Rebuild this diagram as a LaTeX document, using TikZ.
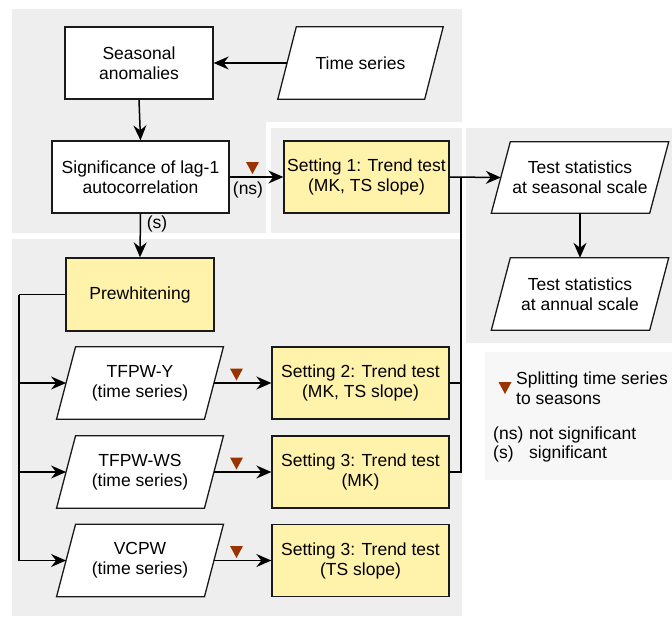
\documentclass[tikz,border=0pt]{standalone}
\usepackage{fontspec}
\setmainfont{Liberation Sans}
\usetikzlibrary{arrows.meta}

\definecolor{panelgray}{HTML}{EEEEEE}
\definecolor{legendgray}{HTML}{F7F7F7}
\definecolor{stepyellow}{HTML}{FFF2AB}
\definecolor{markred}{HTML}{993300}
\definecolor{edge}{HTML}{1A1A1A}

\pgfdeclarelayer{panels}
\pgfdeclarelayer{shapes}
\pgfsetlayers{panels,shapes,main}

% parallelogram outline around a (borderless) node, shifted by half the slant
\newcommand\parallelshape[2]{%
  \begin{pgfonlayer}{shapes}
    \draw[boxline, fill=white]
      ([xshift=#2/2]#1.north west) -- ([xshift=#2/2]#1.north east) --
      ([xshift=-#2/2]#1.south east) -- ([xshift=-#2/2]#1.south west) -- cycle;
  \end{pgfonlayer}}

\tikzset{
  txt/.style={font=\fontsize{17.5}{20}\selectfont, align=center, text=black},
  boxline/.style={draw=edge, line width=1.3pt},
  plainbox/.style={txt, boxline, fill=white, rectangle, inner sep=0pt, minimum height=72pt},
  stepbox/.style={plainbox, fill=stepyellow},
  databox/.style={txt, rectangle, inner sep=0pt, minimum height=72pt},
  arr/.style={draw=black, line width=1.5pt, -{Stealth[length=15pt,width=13pt,inset=5pt]}},
  link/.style={draw=black, line width=1.5pt},
  splitmark/.pic={\fill[markred] (-6.5,-6) -- (6.5,-6) -- (0,6) -- cycle;},
}

\begin{document}
\begin{tikzpicture}[x=1pt, y=-1pt]
\useasboundingbox (0,0) rectangle (672,616);

% grouping panels
\begin{pgfonlayer}{panels}
  \fill[panelgray] (12,9) -- (462,9) -- (462,122) -- (266,122) -- (266,233) -- (12,233) -- cycle;
  \fill[panelgray] (271,128) rectangle (462,233);
  \fill[panelgray] (466,128) rectangle (672,343);
  \fill[panelgray] (12,239) rectangle (462,616);
  \fill[legendgray] (485,352) rectangle (672,480);
\end{pgfonlayer}

% rectangular steps
\node[plainbox, minimum width=148pt] (anom) at (139,63) {Seasonal\\anomalies};
\node[plainbox, minimum width=177pt] (sig) at (140.5,177) {Significance of lag-1\\autocorrelation};
\node[stepbox, minimum width=165pt] (set1) at (366.5,177) {Setting 1: Trend test\\(MK, TS slope)};
\node[stepbox, minimum width=148pt, minimum height=73pt] (prew) at (140,294.5) {Prewhitening};
\node[stepbox, minimum width=177pt] (set2) at (360.5,383) {Setting 2: Trend test\\(MK, TS slope)};
\node[stepbox, minimum width=177pt] (set3a) at (360.5,472) {Setting 3: Trend test\\(MK)};
\node[stepbox, minimum width=177pt] (set3b) at (360.5,560.5) {Setting 3: Trend test\\(TS slope)};

% data (parallelogram) nodes
\node[databox, minimum width=146.5pt] (ts) at (360.5,63) {Time series};
\node[databox, minimum width=158pt, minimum height=71pt] (stseas) at (580,177.5) {Test statistics\\at seasonal scale};
\node[databox, minimum width=158pt] (stann) at (580,294) {Test statistics\\at annual scale};
\node[databox, minimum width=147.5pt] (tfy) at (140,383) {TFPW-Y\\(time series)};
\node[databox, minimum width=147.5pt] (tfws) at (140,472) {TFPW-WS\\(time series)};
\node[databox, minimum width=147.5pt] (vcpw) at (140,560.5) {VCPW\\(time series)};
\parallelshape{ts}{18.5}
\parallelshape{stseas}{19}
\parallelshape{stann}{19}
\parallelshape{tfy}{19}
\parallelshape{tfws}{19}
\parallelshape{vcpw}{19}

% main flow
\draw[arr] (ts.west) -- (anom.east);
\draw[arr] (anom.south) -- (sig.north);
\draw[arr] (sig.east) -- (set1.west);
\draw[arr] (sig.south) -- (prew.north);
\node[txt] (nslab) at (248,190) {(ns)};
\node[txt] (slab) at (157,224) {(s)};

% prewhitening variants
\coordinate (bus) at (19,294.5);
\draw[link] (prew.west) -- (bus);
\draw[arr] (bus) |- (tfy.west);
\draw[arr] (bus) |- (tfws.west);
\draw[arr] (bus) |- (vcpw.west);
\draw[arr] (tfy.east) -- (set2.west);
\draw[arr] (tfws.east) -- (set3a.west);
\draw[arr] (vcpw.east) -- (set3b.west);

% collecting the trend tests
\coordinate (join) at (461,177);
\draw[arr] (set1.east) -- (stseas.west);
\draw[link] (set3a.east) -- (set3a.east -| join) -- (join);
\draw[link] (set2.east) -- (set2.east -| join);
\draw[arr] (stseas.south) -- (stann.north);

% season-splitting markers
\pic at (252.5,168) {splitmark};
\pic at (236.5,374.5) {splitmark};
\pic at (236.5,463.5) {splitmark};
\pic at (236.5,552) {splitmark};

% legend
\pic at (505,388) {splitmark};
\node[txt, align=left, anchor=west, inner sep=0pt] (leg1) at (516,388.5) {Splitting time series\\to seasons};
\node[txt, anchor=west, inner sep=0pt] (leg2a) at (493,435) {(ns)};
\node[txt, anchor=west, inner sep=0pt] (leg2b) at (529,435) {not significant};
\node[txt, anchor=west, inner sep=0pt] (leg3a) at (493,454) {(s)};
\node[txt, anchor=west, inner sep=0pt] (leg3b) at (529,454) {significant};
\end{tikzpicture}
\end{document}
